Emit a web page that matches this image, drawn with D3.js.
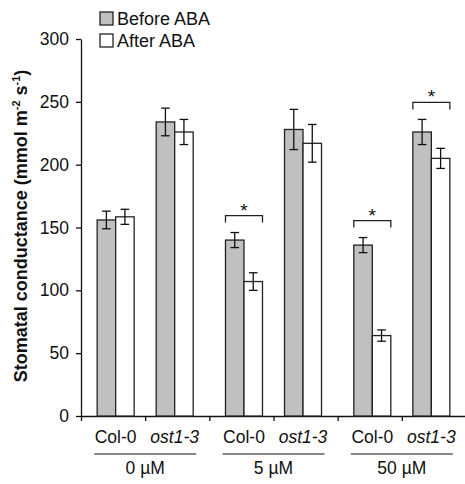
<!DOCTYPE html>
<html><head>
<meta charset="utf-8">
<script src="https://d3js.org/d3.v7.min.js"></script>
<style>
  body { margin: 0; background: #fff; }
  svg text { font-family: "Liberation Sans", Arial, sans-serif; fill: #111; }
</style>
</head>
<body>
<svg id="chart" width="465" height="484"></svg>
<script>
  // data
  const doses = ["0 µM", "5 µM", "50 µM"];
  const genotypes = ["Col-0", "ost1-3"];
  const series = ["Before ABA", "After ABA"];
  // order: dose0 Col, dose0 ost, dose5 Col, ...
  const before = [156, 234, 140, 228, 136, 226];
  const beforeErr = [7, 11, 6, 16, 6, 10];
  const after = [158.5, 226, 107, 217, 64, 205];
  const afterErr = [6, 10, 7, 15, 4.5, 8];
  const significant = [false, false, true, false, true, true];
  const yTicks = [0, 50, 100, 150, 200, 250, 300];

  const svg = d3.select("#chart");
  const margin = {top: 39, left: 81, bottom: 416, right: 466};

  // x in "slot" units: 6 slots, 2 per dose
  const x = d3.scaleLinear().domain([0, 6]).range([margin.left, margin.right]);
  const y = d3.scaleLinear().domain([0, 300]).range([margin.bottom, margin.top]);
  const barW = 18.5;
  const pairOff = 0.46; // slot units from dose centre

  const colors = {"Before ABA": "#c0c0c0", "After ABA": "#ffffff"};

  // y axis
  const yAxis = d3.axisLeft(y).tickValues(yTicks).tickSize(5).tickSizeOuter(0).tickPadding(7);
  const yg = svg.append("g").attr("transform", "translate(" + margin.left + ",0)").call(yAxis);
  yg.selectAll("text").style("font-size", "17.5px").attr("fill", "#111");
  yg.selectAll("line, path").attr("stroke", "#111").attr("stroke-width", 1.3);

  // x axis
  const xAxis = d3.axisBottom(x).tickValues([0,1,2,3,4,5,6]).tickSize(5).tickSizeOuter(0).tickFormat("");
  const xg = svg.append("g").attr("transform", "translate(0," + margin.bottom + ")").call(xAxis);
  xg.selectAll("line, path").attr("stroke", "#111").attr("stroke-width", 1.3);

  // bar centres
  function centre(i) {
    const g = Math.floor(i / 2);
    return x(2 * g + 1 + (i % 2 === 0 ? -pairOff : pairOff));
  }

  const chart = svg.append("g");
  before.forEach((v, i) => {
    const c = centre(i);
    [[v, beforeErr[i], "Before ABA", -1], [after[i], afterErr[i], "After ABA", 0]].forEach(([val, err, s, side]) => {
      const x0 = c + side * barW;
      chart.append("rect")
        .attr("x", x0).attr("y", y(val))
        .attr("width", barW).attr("height", y(0) - y(val))
        .attr("fill", colors[s]).attr("stroke", "#222").attr("stroke-width", 1.3);
      const cx = x0 + barW / 2;
      chart.append("line").attr("x1", cx).attr("x2", cx)
        .attr("y1", y(val + err)).attr("y2", y(val - err))
        .attr("stroke", "#111").attr("stroke-width", 1.3);
      [val + err, val - err].forEach(e => {
        chart.append("line").attr("x1", cx - 4.3).attr("x2", cx + 4.3)
          .attr("y1", y(e)).attr("y2", y(e))
          .attr("stroke", "#111").attr("stroke-width", 1.3);
      });
    });

    if (significant[i]) {
      const top = Math.max(v + beforeErr[i], after[i] + afterErr[i]);
      const by = y(top) - 17;
      const l = c - barW, r = c + barW;
      chart.append("path")
        .attr("d", "M" + l + "," + (by + 7) + "V" + by + "H" + r + "V" + (by + 7))
        .attr("fill", "none").attr("stroke", "#222").attr("stroke-width", 1.3);
      chart.append("text").attr("x", c).attr("y", by + 1)
        .attr("text-anchor", "middle").style("font-size", "19px").text("*");
    }

    // genotype label
    svg.append("text").attr("x", c).attr("y", 443)
      .attr("text-anchor", "middle").style("font-size", "17.5px")
      .style("font-style", genotypes[i % 2] === "ost1-3" ? "italic" : "normal")
      .text(genotypes[i % 2]);
  });

  // dose labels with underline
  doses.forEach((d, g) => {
    const c = x(2 * g + 1);
    svg.append("line").attr("x1", c - 51).attr("x2", c + 51)
      .attr("y1", 454).attr("y2", 454).attr("stroke", "#111").attr("stroke-width", 1.2);
    svg.append("text").attr("x", c).attr("y", 474)
      .attr("text-anchor", "middle").style("font-size", "17.5px").text(d);
  });

  // y title
  const yt = svg.append("text")
    .attr("transform", "translate(27,226) rotate(-90)")
    .attr("text-anchor", "middle")
    .style("font-size", "18px").style("font-weight", "bold");
  yt.append("tspan").text("Stomatal conductance (mmol m");
  yt.append("tspan").attr("dy", -7).style("font-size", "11px").text("-2");
  yt.append("tspan").attr("dy", 7).text(" s");
  yt.append("tspan").attr("dy", -7).style("font-size", "11px").text("-1");
  yt.append("tspan").attr("dy", 7).text(")");

  // legend
  series.forEach((s, i) => {
    const ly = 12 + i * 22;
    svg.append("rect").attr("x", 100).attr("y", ly).attr("width", 13).attr("height", 13)
      .attr("fill", colors[s]).attr("stroke", "#222").attr("stroke-width", 1.3);
    svg.append("text").attr("x", 117).attr("y", ly + 13)
      .style("font-size", "18px").text(s);
  });
</script>
</body>
</html>
